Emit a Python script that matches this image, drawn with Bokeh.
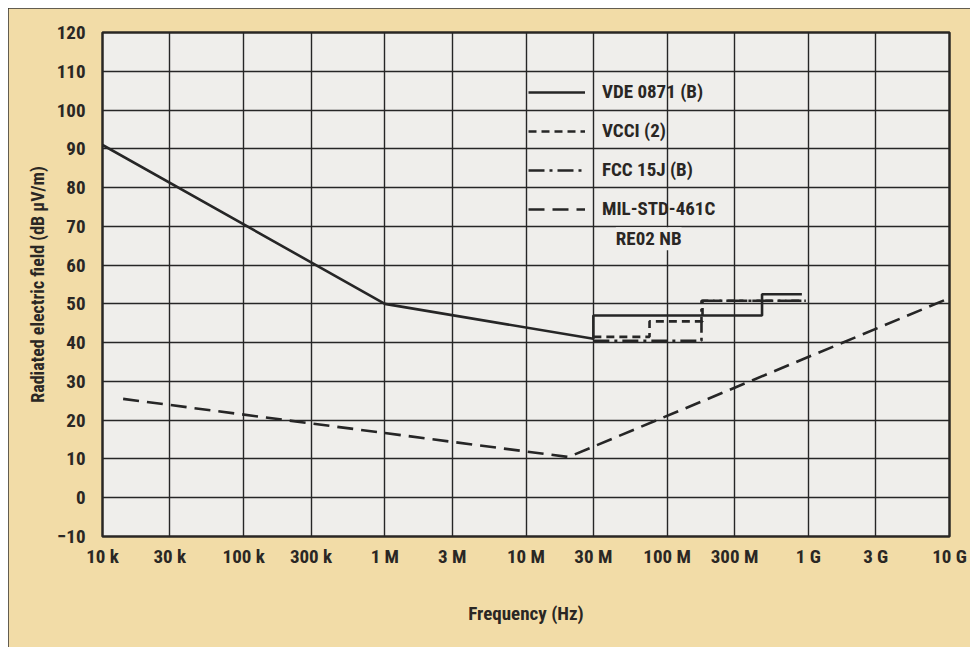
from bokeh.plotting import figure
from bokeh.models import FixedTicker, Legend, LegendItem, Label
from bokeh.embed import file_html
from bokeh.resources import INLINE

# ---- data ----
tick_freqs = [1e4, 3e4, 1e5, 3e5, 1e6, 3e6, 1e7, 3e7, 1e8, 3e8, 1e9, 3e9, 1e10]
tick_labels = ["10 k", "30 k", "100 k", "300 k", "1 M", "3 M", "10 M", "30 M",
               "100 M", "300 M", "1 G", "3 G", "10 G"]
y_ticks = list(range(-10, 121, 10))

vde_freq = [1e4, 1e6, 3e7, 3e7, 4.7e8, 4.7e8, 9e8]
vde_db = [91, 50, 41, 47, 47, 52.5, 52.5]

vcci_freq = [3e7, 7.5e7, 7.5e7, 1.78e8, 1.78e8, 9.6e8]
vcci_db = [41.5, 41.5, 45.5, 45.5, 50.8, 50.8]

fcc_freq = [3e7, 1.75e8, 1.75e8, 9.6e8]
fcc_db = [40.5, 40.5, 50.8, 50.8]

mil_freq = [1.4e4, 2e7, 1e10]
mil_db = [25.5, 10.5, 51.5]

# ---- style ----
FONT = "'Roboto Condensed', 'Open Sans Condensed', 'DejaVu Sans Condensed', sans-serif"
TAN = "#f2dca7"
PAPER = "#efeeeb"
INK = "#2a2724"
LINE = "#262626"

p = figure(width=962, height=639, x_axis_type="log",
           x_range=(1e4, 1e10), y_range=(-10, 120),
           output_backend="svg", toolbar_location=None,
           min_border_left=94, min_border_right=21,
           min_border_top=24, min_border_bottom=111)
p.margin = (8, 8, 0, 8)

p.background_fill_color = PAPER
p.border_fill_color = TAN
p.outline_line_color = INK
p.outline_line_width = 2.5
p.styles = {"outline": "2px solid #333", "outline-offset": "-2px"}

p.xaxis.ticker = FixedTicker(ticks=tick_freqs)
p.xaxis.major_label_overrides = {f: lab for f, lab in zip(tick_freqs, tick_labels)}
p.yaxis.ticker = FixedTicker(ticks=y_ticks)

for ax in (p.xaxis, p.yaxis):
    ax.axis_line_color = None
    ax.major_tick_line_color = None
    ax.minor_tick_line_color = None
    ax.major_label_text_font = FONT
    ax.major_label_text_font_style = "bold"
    ax.major_label_text_font_size = "19px"
    ax.major_label_text_color = INK
    ax.axis_label_text_font = FONT
    ax.axis_label_text_font_style = "bold"
    ax.axis_label_text_color = INK

p.xaxis.axis_label_text_font_size = "19px"
p.yaxis.axis_label_text_font_size = "18px"
p.xaxis.major_label_standoff = 2
p.yaxis.major_label_standoff = 11
p.xaxis.axis_label = "Frequency (Hz)"
p.yaxis.axis_label = "Radiated electric field (dB \u00b5V/m)"
p.xaxis.axis_label_standoff = 31
p.yaxis.axis_label_standoff = 6

p.xgrid.grid_line_color = LINE
p.ygrid.grid_line_color = LINE
p.xgrid.grid_line_width = 1.4
p.ygrid.grid_line_width = 1.4
p.xgrid.minor_grid_line_color = None

r_vde = p.line(vde_freq, vde_db, line_color=LINE, line_width=2.6)
r_vcci = p.line(vcci_freq, vcci_db, line_color=LINE, line_width=2.6, line_dash="8 5")
r_fcc = p.line(fcc_freq, fcc_db, line_color=LINE, line_width=2.6, line_dash="16 5 3 5")
r_mil = p.line(mil_freq, mil_db, line_color=LINE, line_width=2.6, line_dash="16 8")

legend = Legend(items=[
    LegendItem(label="VDE 0871 (B)", renderers=[r_vde]),
    LegendItem(label="VCCI (2)", renderers=[r_vcci]),
    LegendItem(label="FCC 15J (B)", renderers=[r_fcc]),
    LegendItem(label="MIL-STD-461C", renderers=[r_mil]),
], location=(426, 316))
legend.background_fill_alpha = 0
legend.border_line_color = None
legend.padding = 0
legend.margin = 0
legend.spacing = 16
legend.glyph_width = 57
legend.glyph_height = 20
legend.label_height = 20
legend.label_standoff = 17
legend.label_text_font = FONT
legend.label_text_font_style = "bold"
legend.label_text_font_size = "19px"
legend.label_text_color = INK
p.add_layout(legend, "center")

p.add_layout(Label(x=7.4e7, y=66.8, text="RE02 NB", text_align="center",
                   text_baseline="middle", text_font=FONT, text_font_style="bold",
                   text_font_size="19px", text_color=INK,
                   background_fill_color=PAPER, background_fill_alpha=1.0))

open("out.html", "w").write(file_html(p, INLINE))
